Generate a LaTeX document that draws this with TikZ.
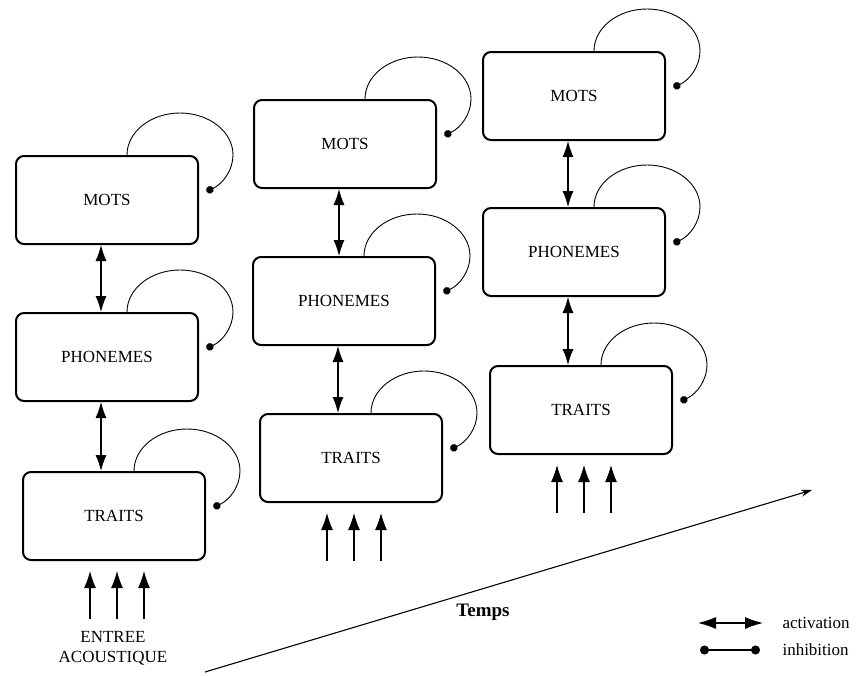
\documentclass[tikz,border=0pt]{standalone}
\usepackage{fontspec}
\setmainfont{Liberation Serif}
\usetikzlibrary{arrows.meta}
\tikzset{
  layer/.style={draw, line width=2pt, rounded corners=8pt, minimum width=182pt, minimum height=88pt, font=\fontsize{17}{20}\selectfont},
  act/.style={line width=1.1pt, {Latex[length=16pt,width=11pt]}-{Latex[length=16pt,width=11pt]}},
  inh/.style={line width=0.9pt, -{Circle[length=7.5pt]}},
  feed/.style={line width=1.1pt, -{Latex[length=17pt,width=12pt]}},
  lbl/.style={font=\fontsize{17}{20}\selectfont}
}

\begin{document}
\begin{tikzpicture}[x=1pt,y=-1pt]
\useasboundingbox (0,0) rectangle (857,675);

% first step
\node[layer] (m1) at (107,200) {MOTS};
\node[layer] (p1) at (107,357) {PHONEMES};
\node[layer] (t1) at (114,516) {TRAITS};
% second step
\node[layer] (m2) at (345,144) {MOTS};
\node[layer] (p2) at (344,301) {PHONEMES};
\node[layer] (t2) at (351,458) {TRAITS};
% third step
\node[layer] (m3) at (574,96) {MOTS};
\node[layer] (p3) at (574,252) {PHONEMES};
\node[layer] (t3) at (581,410) {TRAITS};

\foreach \a/\b in {m1/p1,p1/t1,m2/p2,p2/t2,m3/p3,p3/t3}
  \draw[act] ([xshift=-6pt]\a.south) -- ([xshift=-6pt]\a.south |- \b.north);

\foreach \n in {m1,p1,t1,m2,p2,t2,m3,p3,t3}
  \draw[inh] ([xshift=-72pt]\n.north east) arc[start angle=180, end angle=-60, x radius=53pt, y radius=42pt];

\foreach \t in {t1,t2,t3}
  \foreach \dx in {-24,3,30}
    \draw[feed] ([xshift=\dx pt, yshift=-58pt]\t.south) -- ([xshift=\dx pt, yshift=-10pt]\t.south);

\node[lbl, align=center] (entree) at (113,648) {ENTREE\\ACOUSTIQUE};

% time axis
\coordinate (t0) at (205,672);
\coordinate (t9) at (812,490);
\draw[line width=1.1pt, -{Stealth[length=11pt,width=7pt]}] (t0) -- (t9);
\node[font=\bfseries\fontsize{19}{22}\selectfont] (temps) at (483,612) {Temps};

% legend
\coordinate (a0) at (698,623);
\coordinate (a1) at (763,623);
\draw[line width=1.1pt, {Latex[length=18pt,width=12pt]}-{Latex[length=18pt,width=12pt]}] (a0) -- (a1);
\node[lbl, anchor=west] (actlbl) at (779,623) {activation};
\coordinate (i0) at (700,650);
\coordinate (i1) at (760,650);
\draw[line width=1.1pt, {Circle[length=9pt]}-{Circle[length=9pt]}] (i0) -- (i1);
\node[lbl, anchor=west] (inhlbl) at (779,650) {inhibition};
\end{tikzpicture}
\end{document}
